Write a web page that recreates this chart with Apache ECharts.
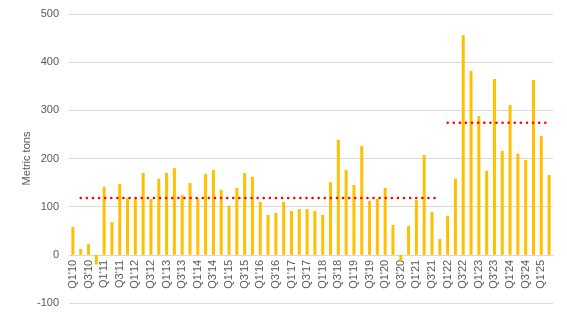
<!DOCTYPE html>
<html><head><meta charset="utf-8">
<script src="https://cdn.jsdelivr.net/npm/echarts@6/dist/echarts.min.js"></script>
<style>html,body{margin:0;padding:0;background:#fff}#c{width:567px;height:319px}</style>
</head><body><div id="c"></div>
<script>
const years = ['10','11','12','13','14','15','16','17','18','19','20','21','22','23','24','25'];
const categories = [];
years.forEach(y => { for (let q = 1; q <= 4; q++) categories.push("Q" + q + "'" + y); });
categories.length = 62; // Q1'10 .. Q2'25
const values = [
  58, 12, 23, -20,
  141, 68, 147, 118,
  117, 170, 116, 158,
  170, 180, 124, 149,
  118, 168, 176, 135,
  102, 139, 170, 162,
  110, 83, 87, 110,
  91, 95, 95, 91,
  83, 151, 239, 176,
  145, 226, 112, 116,
  139, 62, -12, 60,
  114, 207, 89, 33,
  81, 158, 456, 382,
  288, 174, 365, 216,
  311, 210, 197, 363,
  247, 166
];
const avgEarly = 118;   // shown Q2'10 - Q4'21
const avgLate = 274;    // shown Q1'22 - Q2'25
const earlyLine = categories.map((c, i) => (i >= 1 && i <= 47) ? avgEarly : null);
const lateLine = categories.map((c, i) => i >= 48 ? avgLate : null);
const yTicks = { min: -100, max: 500, interval: 100 };

const gridTop = 14, gridBottom = 16, H = 319;
const plotH = H - gridTop - gridBottom;
const zeroOffset = plotH * (0 - yTicks.min) / (yTicks.max - yTicks.min);

const chart = echarts.init(document.getElementById('c'));
chart.setOption({
  animation: false,
  grid: { left: 69, right: 14, top: gridTop, bottom: gridBottom, containLabel: false, outerBoundsMode: 'none' },
  xAxis: {
    type: 'category', data: categories,
    offset: -zeroOffset,
    axisLine: { onZero: false, lineStyle: { color: '#D9D9D9' } },
    axisTick: { show: false },
    axisLabel: { interval: 1, rotate: 90, color: '#595959', fontSize: 11, fontFamily: 'Liberation Sans', margin: 5 }
  },
  yAxis: {
    type: 'value', min: yTicks.min, max: yTicks.max, interval: yTicks.interval,
    name: 'Metric tons', nameLocation: 'middle', nameGap: 37, nameMoveOverlap: false,
    nameTextStyle: { color: '#595959', fontSize: 11, fontFamily: 'Liberation Sans' },
    axisLine: { show: false }, axisTick: { show: false },
    axisLabel: { color: '#595959', fontSize: 11, fontFamily: 'Liberation Sans', margin: 10 },
    splitLine: { lineStyle: { color: '#D9D9D9' } }
  },
  series: [
    { type: 'bar', data: values, barWidth: 3, itemStyle: { color: '#FFC000' } },
    { type: 'line', data: earlyLine, symbol: 'none', connectNulls: false,
      lineStyle: { color: '#FF0000', width: 2.5, type: [0.1, 6], cap: 'round' } },
    { type: 'line', data: lateLine, symbol: 'none', connectNulls: false,
      lineStyle: { color: '#FF0000', width: 2.5, type: [0.1, 6], cap: 'round' } }
  ]
});
</script></body></html>
